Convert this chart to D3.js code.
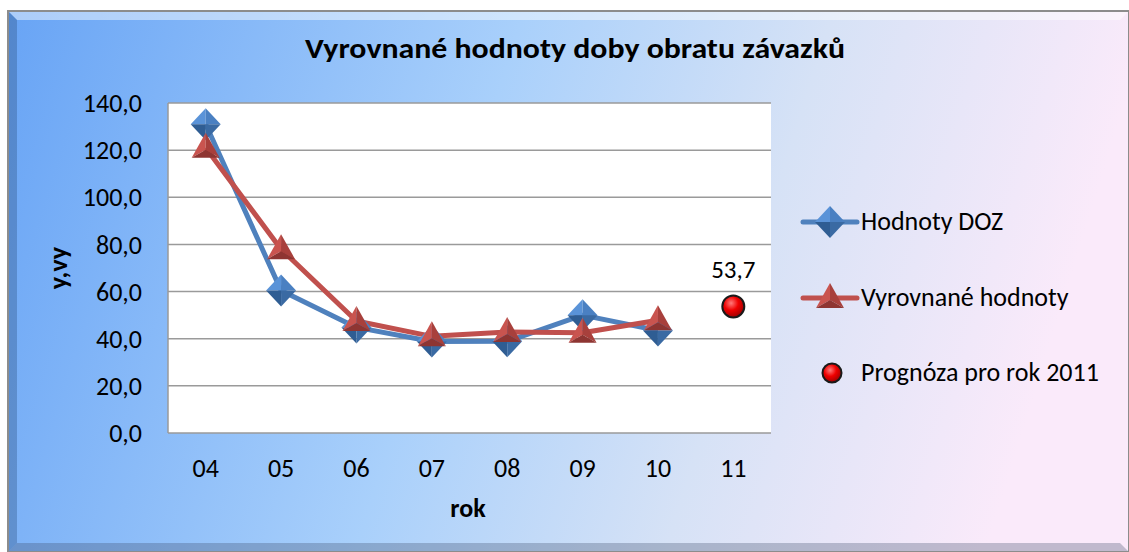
<!DOCTYPE html>
<html>
<head>
<meta charset="utf-8">
<script src="https://cdn.jsdelivr.net/npm/d3@7"></script>
<style>
  html, body { margin: 0; padding: 0; background: #fff; }
  svg { display: block; font-family: Carlito, "Open Sans", "Noto Sans", sans-serif; }
</style>
</head>
<body>
<svg id="chart"></svg>
<script>
// data
let years = ["04", "05", "06", "07", "08", "09", "10", "11"];
let dozValues = [131.0, 60.5, 44.8, 38.8, 38.9, 50.0, 43.5];
let smoothValues = [121.0, 78.0, 47.5, 41.0, 42.8, 42.5, 47.8];
let forecastYear = "11";
let forecastValue = 53.7;
let yTicks = [0, 20, 40, 60, 80, 100, 120, 140];

let width = 1129, height = 552;
let svg = d3.select("#chart").attr("width", width).attr("height", height);
let defs = svg.append("defs");

// background gradient of the chart area
let bg = defs.append("linearGradient").attr("id", "bg")
  .attr("x1", 0).attr("y1", 0).attr("x2", 1).attr("y2", 0.15);
bg.append("stop").attr("offset", 0).attr("stop-color", "#68a4f5");
bg.append("stop").attr("offset", 0.45).attr("stop-color", "#a9d0fb");
bg.append("stop").attr("offset", 0.72).attr("stop-color", "#d6e2f6");
bg.append("stop").attr("offset", 1).attr("stop-color", "#faeafa");

let dot = defs.append("radialGradient").attr("id", "dot")
  .attr("cx", 0.4).attr("cy", 0.35).attr("r", 0.65);
dot.append("stop").attr("offset", 0).attr("stop-color", "#ff7a7a");
dot.append("stop").attr("offset", 0.5).attr("stop-color", "#f00000");
dot.append("stop").attr("offset", 1).attr("stop-color", "#a00000");

// frame with bevel
let fx = 8, fy = 11, fw = width - 8, fh = height - 11;
svg.append("rect").attr("x", fx).attr("y", fy).attr("width", fw).attr("height", fh)
   .attr("fill", "url(#bg)");
let bev = 9;
svg.append("polygon")
   .attr("points", [[fx, fy], [fx + fw, fy], [fx + fw - bev, fy + bev], [fx + bev, fy + bev]].join(" "))
   .attr("fill", "#ffffff").attr("opacity", 0.45);
svg.append("polygon")
   .attr("points", [[fx, fy], [fx + bev, fy + bev], [fx + bev, fy + fh - bev], [fx, fy + fh]].join(" "))
   .attr("fill", "#2a4f80").attr("opacity", 0.35);
svg.append("polygon")
   .attr("points", [[fx, fy + fh], [fx + bev, fy + fh - bev], [fx + fw - bev, fy + fh - bev], [fx + fw, fy + fh]].join(" "))
   .attr("fill", "#3a4a66").attr("opacity", 0.3);
svg.append("rect").attr("x", fx).attr("y", fy).attr("width", fw).attr("height", fh)
   .attr("fill", "none").attr("stroke", "#8c8c8c").attr("stroke-width", 2);

// plot area
let plot = { x1: 168, x2: 771, y1: 103, y2: 433 };
let x = d3.scaleBand().domain(years).range([plot.x1, plot.x2]);
let y = d3.scaleLinear().domain([0, 140]).range([plot.y2, plot.y1]);
let cx = d => x(d) + x.bandwidth() / 2;

svg.append("rect").attr("x", plot.x1).attr("y", plot.y1)
   .attr("width", plot.x2 - plot.x1).attr("height", plot.y2 - plot.y1)
   .attr("fill", "#ffffff");

svg.selectAll(".grid").data(yTicks).enter().append("line")
   .attr("x1", plot.x1).attr("x2", plot.x2)
   .attr("y1", d => y(d)).attr("y2", d => y(d))
   .attr("stroke", "#9a9a9a").attr("stroke-width", 1.5);
svg.append("line").attr("x1", plot.x1).attr("x2", plot.x1)
   .attr("y1", plot.y1).attr("y2", plot.y2)
   .attr("stroke", "#9a9a9a").attr("stroke-width", 1.5);

// axes labels
let yAxis = d3.axisLeft(y).tickValues(yTicks).tickSize(0).tickPadding(26)
  .tickFormat(d => d3.format(".1f")(d).replace(".", ","));
let ya = svg.append("g").attr("transform", `translate(${plot.x1},0)`).call(yAxis)
  .attr("font-family", null).attr("font-size", null);
ya.select(".domain").remove();
ya.selectAll("text").attr("font-size", 26).attr("fill", "#000").attr("dy", "0.33em");

let xAxis = d3.axisBottom(x).tickSize(0).tickPadding(0);
let xa = svg.append("g").attr("transform", `translate(0,${plot.y2})`).call(xAxis)
  .attr("font-family", null).attr("font-size", null);
xa.select(".domain").remove();
xa.selectAll("text").attr("font-size", 26).attr("fill", "#000").attr("y", 44).attr("dy", 0);

svg.append("text").attr("x", 575).attr("y", 58).attr("text-anchor", "middle")
   .attr("font-size", 28).attr("font-weight", "bold")
   .attr("textLength", 540).attr("lengthAdjust", "spacingAndGlyphs")
   .text("Vyrovnané hodnoty doby obratu závazků");
svg.append("text").attr("x", 468).attr("y", 517).attr("text-anchor", "middle")
   .attr("font-size", 26).attr("font-weight", "bold").text("rok");
svg.append("text").attr("transform", "translate(67,268) rotate(-90)").attr("text-anchor", "middle")
   .attr("font-size", 26).attr("font-weight", "bold").text("y,vy");

// marker helpers
function diamond(g, px, py) {
  let w = 15, h = 16;
  let facets = [
    [[px, py - h], [px - w, py], [px, py], "#5a93d8"],
    [[px, py - h], [px + w, py], [px, py], "#4a80c2"],
    [[px - w, py], [px, py + h], [px, py], "#2f5d93"],
    [[px + w, py], [px, py + h], [px, py], "#3a6aa3"]
  ];
  facets.forEach(f => g.append("polygon").attr("points", f.slice(0, 3).join(" ")).attr("fill", f[3]));
}
function triangle(g, px, py) {
  let w = 14, top = py - 15, bot = py + 10;
  let c = [px, py + 2];
  g.append("polygon").attr("points", [[px, top], [px - w, bot], c].join(" ")).attr("fill", "#c9544f");
  g.append("polygon").attr("points", [[px, top], [px + w, bot], c].join(" ")).attr("fill", "#a8403c");
  g.append("polygon").attr("points", [[px - w, bot], [px + w, bot], c].join(" ")).attr("fill", "#8e3532");
}

let line = d3.line().x((d, i) => cx(years[i])).y(d => y(d));

svg.append("path").datum(dozValues).attr("d", line)
   .attr("fill", "none").attr("stroke", "#4f81bd").attr("stroke-width", 5).attr("stroke-linejoin", "round");
svg.append("path").datum(smoothValues).attr("d", line)
   .attr("fill", "none").attr("stroke", "#c0504d").attr("stroke-width", 5).attr("stroke-linejoin", "round");

let mk = svg.append("g");
dozValues.forEach((v, i) => diamond(mk, cx(years[i]), y(v)));
smoothValues.forEach((v, i) => triangle(mk, cx(years[i]), y(v)));

// forecast point
svg.append("circle").attr("cx", cx(forecastYear)).attr("cy", y(forecastValue)).attr("r", 11)
   .attr("fill", "url(#dot)").attr("stroke", "#1a1a1a").attr("stroke-width", 2);
svg.append("text").attr("x", cx(forecastYear)).attr("y", 278)
   .attr("text-anchor", "middle").attr("font-size", 25)
   .text(d3.format(".1f")(forecastValue).replace(".", ","));

// legend
let legend = [
  { name: "Hodnoty DOZ", type: "doz", y: 222 },
  { name: "Vyrovnané hodnoty", type: "smooth", y: 298 },
  { name: "Prognóza pro rok 2011", type: "dot", y: 373 }
];
legend.forEach(l => {
  let g = svg.append("g");
  if (l.type === "dot") {
    g.append("circle").attr("cx", 832).attr("cy", l.y).attr("r", 9.5)
     .attr("fill", "url(#dot)").attr("stroke", "#1a1a1a").attr("stroke-width", 2);
  } else {
    g.append("line").attr("x1", 803).attr("x2", 857).attr("y1", l.y).attr("y2", l.y)
     .attr("stroke", l.type === "doz" ? "#4f81bd" : "#c0504d").attr("stroke-width", 5)
     .attr("stroke-linecap", "round");
    if (l.type === "doz") diamond(g, 830, l.y); else triangle(g, 830, l.y);
  }
  g.append("text").attr("x", 861).attr("y", l.y + 8)
   .attr("font-size", 26).text(l.name);
});
</script>
</body>
</html>
